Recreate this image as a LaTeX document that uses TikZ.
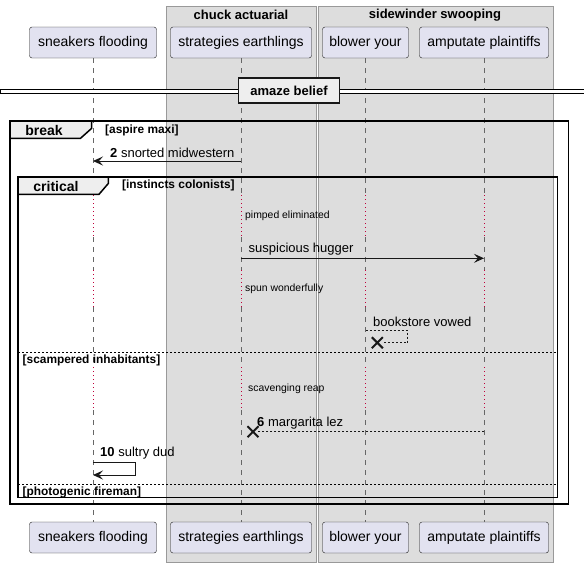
\documentclass[tikz,border=0pt]{standalone}
\usepackage{fontspec}
\setmainfont{Liberation Sans}
\usetikzlibrary{arrows.meta}
\definecolor{actorfill}{HTML}{E2E2F0}
\definecolor{groupfill}{HTML}{DDDDDD}
\definecolor{tabfill}{HTML}{EEEEEE}
\definecolor{delayred}{HTML}{C0003A}
\definecolor{linegray}{HTML}{181818}

\begin{document}
\begin{tikzpicture}[x=1pt, y=-1pt,
      actor/.style={draw=linegray, fill=actorfill, rounded corners=2.5pt,
        minimum height=31pt, inner sep=0pt, font=\fontsize{14}{16}\selectfont},
      grouparea/.style={draw=black!40, fill=groupfill, inner sep=0pt, anchor=north west},
      grouptitle/.style={font=\fontsize{13}{15}\selectfont\bfseries, inner sep=0pt},
      lifeline/.style={draw=black!60, line width=0.5pt, dash pattern=on 5pt off 5pt},
      delayline/.style={draw=delayred, line width=0.9pt, dash pattern=on 1pt off 3pt},
      delaytext/.style={font=\fontsize{10.4}{12}\selectfont, anchor=west, inner sep=0pt},
      msglabel/.style={font=\fontsize{13}{15}\selectfont, anchor=west, inner sep=0pt},
      guardtext/.style={font=\fontsize{11.9}{14}\selectfont\bfseries, anchor=west, inner sep=0pt},
      frameline/.style={draw=black, line width=1.5pt},
      frametitle/.style={font=\fontsize{14}{16}\selectfont\bfseries, inner sep=0pt},
      elseline/.style={draw=black, line width=0.6pt, dash pattern=on 2pt off 2pt},
      msg/.style={draw=linegray, line width=0.9pt, -{Stealth[length=10pt, width=9pt, inset=4pt]}},
      replymsg/.style={draw=linegray, line width=0.6pt, dash pattern=on 2pt off 2pt},
      cross/.style={draw=linegray, line width=2pt}
    ]
    \useasboundingbox (0,0) rectangle (584,563);

    \node[grouparea, minimum width=150pt, minimum height=556pt] (chuck) at (166,6) {};
    \node[grouparea, minimum width=235pt, minimum height=556pt] (sidewinder) at (318,6) {};
    \node[grouptitle] (chucktitle) at (241,15) {chuck actuarial};
    \node[grouptitle] (sidewindertitle) at (435,15) {sidewinder swooping};

    \node[actor, minimum width=127pt] (top-sneakers) at (93,42.5) {sneakers flooding};
    \node[actor, minimum width=141pt] (top-strategies) at (241,42.5) {strategies earthlings};
    \node[actor, minimum width=86pt] (top-blower) at (365.5,42.5) {blower your};
    \node[actor, minimum width=129pt] (top-amputate) at (484,42.5) {amputate plaintiffs};
    \node[actor, minimum width=127pt] (bot-sneakers) at (93,537.5) {sneakers flooding};
    \node[actor, minimum width=141pt] (bot-strategies) at (241,537.5) {strategies earthlings};
    \node[actor, minimum width=86pt] (bot-blower) at (365.5,537.5) {blower your};
    \node[actor, minimum width=129pt] (bot-amputate) at (484,537.5) {amputate plaintiffs};

    \foreach \p in {sneakers,strategies,blower,amputate}{
      \draw[lifeline] (top-\p.south) -- (top-\p |- 0,195);
      \draw[delayline] (top-\p |- 0,195) -- (top-\p |- 0,237);
      \draw[lifeline] (top-\p |- 0,237) -- (top-\p |- 0,270);
      \draw[delayline] (top-\p |- 0,270) -- (top-\p |- 0,307);
      \draw[lifeline] (top-\p |- 0,307) -- (top-\p |- 0,367);
      \draw[delayline] (top-\p |- 0,367) -- (top-\p |- 0,410);
      \draw[lifeline] (top-\p |- 0,410) -- (bot-\p.north);
    }

    \draw[black, line width=0.8pt, fill=white] (0,89.5) rectangle (584,93.5);
    \node[draw=linegray, line width=1.8pt, fill=tabfill, minimum width=101pt, minimum height=25pt,
      font=\fontsize{13}{15}\selectfont\bfseries, inner sep=0pt] (amaze) at (289,90.8) {amaze belief};

    \draw[frameline] (10,121) rectangle (568.5,504);
    \draw[frameline, fill=tabfill] (10,121) -- (91.7,121) -- (91.7,128.3) -- (80.5,138.3) -- (10,138.3) -- cycle;
    \node[frametitle] (breaktitle) at (44,130) {break};
    \node[guardtext] (breakguard) at (105,130) {[aspire maxi]};

    \draw[frameline] (18,177) rectangle (557.5,497.3);
    \draw[frameline, fill=tabfill] (18,177) -- (108.3,177) -- (108.3,183.5) -- (99,194.3) -- (18,194.3) -- cycle;
    \node[frametitle] (criticaltitle) at (56,186.5) {critical};
    \node[guardtext] (criticalguard) at (122,185.5) {[instincts colonists]};

    \draw[elseline] (18,352.3) -- (557.5,352.3);
    \node[guardtext] (elseone) at (22.5,360.8) {[scampered inhabitants]};
    \draw[elseline] (18,484.3) -- (557.5,484.3);
    \node[guardtext] (elsetwo) at (22.5,492.7) {[photogenic fireman]};

    \coordinate (m2from) at (241,161);
    \coordinate (m2to) at (93,161);
    \draw[msg] (m2from) -- (m2to);
    \node[msglabel] (m2label) at (110,152.5) {\textbf{2} snorted midwestern};

    \node[delaytext] (delayone) at (245,216) {pimped eliminated};

    \coordinate (m3from) at (241,258.3);
    \coordinate (m3to) at (484,258.3);
    \draw[msg] (m3from) -- (m3to);
    \node[msglabel] (m3label) at (248.5,249.5) {suspicious hugger};

    \node[delaytext] (delaytwo) at (245,288.5) {spun wonderfully};

    \coordinate (m4from) at (365.5,330.7);
    \coordinate (kill1) at (377.3,342.7);
    \draw[replymsg] (m4from) -- (407.7,330.7) -- (407.7,342.7) -- ([xshift=5pt]kill1);
    \draw[cross] (kill1) +(-5.5,-5.5) -- +(5.5,5.5) (kill1) +(-5.5,5.5) -- +(5.5,-5.5);
    \node[msglabel] (m4label) at (373,322.2) {bookstore vowed};

    \node[delaytext] (delaythree) at (248,388.5) {scavenging reap};

    \coordinate (m6from) at (484,431);
    \coordinate (kill2) at (253,431.7);
    \draw[replymsg] (m6from) -- ([xshift=5pt]kill2 |- m6from);
    \draw[cross] (kill2) +(-5.5,-5.5) -- +(5.5,5.5) (kill2) +(-5.5,5.5) -- +(5.5,-5.5);
    \node[msglabel] (m6label) at (257,423.5) {\textbf{6} margarita lez};

    \coordinate (m10from) at (93,462.7);
    \coordinate (m10to) at (93,475);
    \draw[msg] (m10from) -- (135,462.7) -- (135,475) -- (m10to);
    \node[msglabel] (m10label) at (100,453.2) {\textbf{10} sultry dud};
  \end{tikzpicture}
\end{document}
